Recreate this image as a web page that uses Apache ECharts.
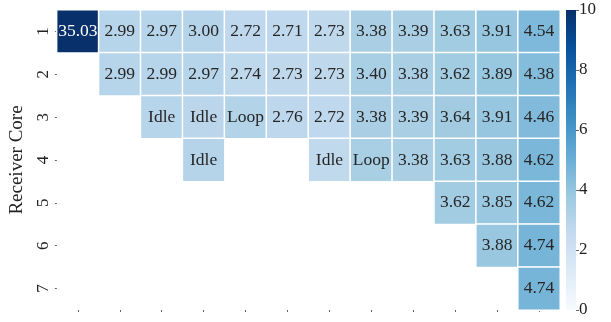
<!DOCTYPE html>
<html><head><meta charset="utf-8">
<script src="https://cdn.jsdelivr.net/npm/echarts@6/dist/echarts.min.js"></script>
<style>html,body{margin:0;padding:0;background:#fff}#c{width:611px;height:322px}</style>
</head><body><div id="c"></div>
<script>
// Columns (sender index, unlabeled) and receiver cores
const columns = ['1','2','3','4','5','6','7','8','9','10','11','12'];
const receiverCores = ['1','2','3','4','5','6','7'];
// Cell values (null = empty); colour comes from these
const row1 = [35.03, 2.99, 2.97, 3.00, 2.72, 2.71, 2.73, 3.38, 3.39, 3.63, 3.91, 4.54];
const row2 = [null, 2.99, 2.99, 2.97, 2.74, 2.73, 2.73, 3.40, 3.38, 3.62, 3.89, 4.38];
const row3 = [null, null, 2.97, 2.85, 3.10, 2.76, 2.72, 3.38, 3.39, 3.64, 3.91, 4.46];
const row4 = [null, null, null, 3.00, null, null, 2.65, 3.40, 3.38, 3.63, 3.88, 4.62];
const row5 = [null, null, null, null, null, null, null, null, null, 3.62, 3.85, 4.62];
const row6 = [null, null, null, null, null, null, null, null, null, null, 3.88, 4.74];
const row7 = [null, null, null, null, null, null, null, null, null, null, null, 4.74];
// Text overrides for cells labelled by state instead of value
const textRow3 = [null, null, 'Idle', 'Idle', 'Loop', null, null, null, null, null, null, null];
const textRow4 = [null, null, null, 'Idle', null, null, 'Idle', 'Loop', null, null, null, null];
const colorbarTicks = [0, 2, 4, 6, 8, 10];
const colorMin = 0, colorMax = 10;

const rows = [row1, row2, row3, row4, row5, row6, row7];
const textRows = [null, null, textRow3, textRow4, null, null, null];
const blues = ['#f7fbff','#deebf7','#c6dbef','#9ecae1','#6baed6','#4292c6','#2171b5','#08519c','#08306b'];
const FONT = '"Liberation Serif", "DejaVu Serif", serif';

const data = [];
rows.forEach((r, yi) => r.forEach((v, xi) => {
  if (v === null) return;
  const t = textRows[yi] && textRows[yi][xi];
  const item = {value: [xi, yi, v], txt: t || v.toFixed(2)};
  if (v > 8) item.label = {color: '#fff'};
  data.push(item);
}));

const chart = echarts.init(document.getElementById('c'), null, {renderer: 'canvas'});
const grad = blues.slice().reverse().map((c, i) => ({offset: i / (blues.length - 1), color: c}));
chart.setOption({
  animation: false,
  textStyle: {fontFamily: FONT},
  grid: [
    {left: 55, right: 51, top: 10, bottom: 12},
    {left: 566, width: 10, top: 10, bottom: 12}
  ],
  xAxis: [
    {type: 'category', data: columns, gridIndex: 0, axisLine: {show: false},
     axisTick: {show: true, alignWithLabel: true, length: 2, lineStyle: {color: '#666'}},
     axisLabel: {show: false}, splitArea: {show: false}},
    {type: 'category', data: ['cb'], gridIndex: 1, show: false}
  ],
  yAxis: [
    {type: 'category', data: receiverCores, inverse: true, gridIndex: 0,
     axisLine: {show: false},
     axisTick: {show: true, alignWithLabel: true, length: 2, lineStyle: {color: '#666'}},
     axisLabel: {rotate: 90, fontSize: 17, color: '#222', margin: 5, fontFamily: FONT},
     name: 'Receiver Core', nameLocation: 'middle', nameRotate: 90, nameGap: 22,
     nameTextStyle: {fontSize: 19, color: '#222', fontFamily: FONT}},
    {type: 'value', gridIndex: 1, min: colorMin, max: colorMax, interval: 2, position: 'right',
     axisLine: {show: false}, splitLine: {show: false},
     axisTick: {show: true, length: 3, lineStyle: {color: '#666'}},
     axisLabel: {fontSize: 17, color: '#222', margin: 3, fontFamily: FONT}}
  ],
  visualMap: {show: false, type: 'continuous', min: colorMin, max: colorMax, seriesIndex: 0,
              inRange: {color: blues}},
  series: [
    {type: 'heatmap', xAxisIndex: 0, yAxisIndex: 0, data: data,
     itemStyle: {borderColor: '#fff', borderWidth: 1.5},
     label: {show: true, fontSize: 17.5, fontFamily: FONT,
       formatter: p => p.data.txt,
       color: '#262626'},
     emphasis: {disabled: true}},
    {type: 'bar', xAxisIndex: 1, yAxisIndex: 1, data: [colorMax], barWidth: '100%',
     itemStyle: {color: new echarts.graphic.LinearGradient(0, 0, 0, 1, grad)}, silent: true}
  ]
});
</script></body></html>
